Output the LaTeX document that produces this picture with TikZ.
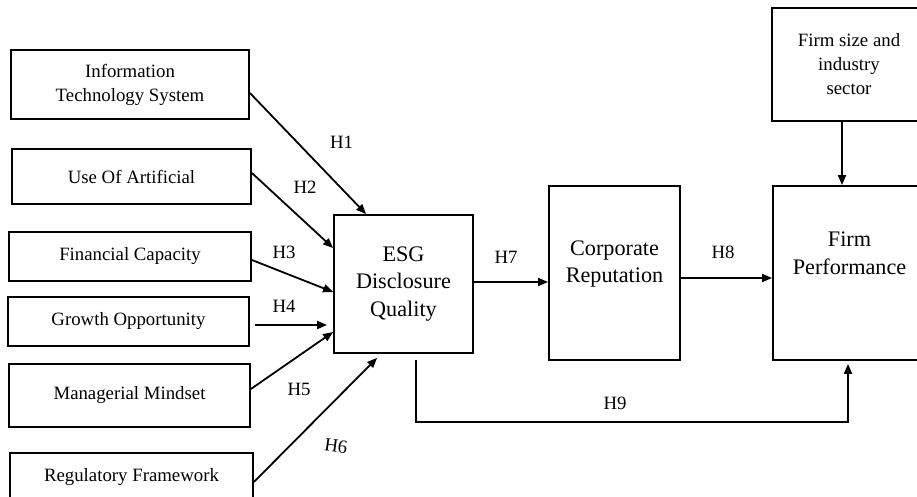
\documentclass[tikz,border=0pt]{standalone}
\usepackage{fontspec}
\setmainfont{Liberation Serif}
\usetikzlibrary{arrows.meta}

\begin{document}
\begin{tikzpicture}[
   x=1pt, y=-1pt,
   box/.style={draw, line width=1.8pt, align=center, inner sep=0pt,
               font=\fontsize{18.8}{24}\selectfont},
   bigtxt/.style={align=center, font=\fontsize{22.2}{27.5}\selectfont},
   hyp/.style={font=\fontsize{18.8}{24}\selectfont},
   >={Triangle[length=10pt, width=8pt]},
   arr/.style={->, line width=1.8pt}]
  \clip (0,0) rectangle (917,497);
  % antecedents
  \node[box, minimum width=238pt, minimum height=69pt] (it) at (130,84.5) {Information\\Technology System};
  \node[box, minimum width=239pt, minimum height=55pt] (ai) at (131.5,176.5) {Use Of Artificial};
  \node[box, minimum width=242pt, minimum height=49pt] (fin) at (130,256.5) {Financial Capacity};
  \node[box, minimum width=241pt, minimum height=49pt] (grow) at (128.5,321.5) {Growth Opportunity};
  \node[box, minimum width=241pt, minimum height=63pt] (mind) at (129.5,395.5) {Managerial Mindset};
  \node[box, minimum width=243pt, minimum height=48pt] (reg) at (131.5,477) {Regulatory Framework};
  % mediator and outcome
  \node[box, bigtxt, minimum width=139pt, minimum height=138pt] (esg) at (403.5,284) {ESG\\Disclosure\\Quality};
  \node[box, minimum width=131pt, minimum height=174pt] (corp) at (614.5,273) {};
  \node[bigtxt] (corptxt) at (614.5,264) {Corporate\\Reputation};
  \node[box, minimum width=153pt, minimum height=174pt] (perf) at (849.5,273) {};
  \node[bigtxt] (perftxt) at (849.5,253.5) {Firm\\Performance};
  \node[box, minimum width=154pt, minimum height=113pt] (size) at (849,64.5) {Firm size and\\industry\\sector};
  % hypotheses
  \draw[arr] ([yshift=-8.5pt]it.east) -- ([xshift=33pt]esg.north west);
  \draw[arr] ([yshift=3.5pt]ai.east) -- ([yshift=36pt]esg.west);
  \draw[arr] ([yshift=-3.5pt]fin.east) -- ([yshift=-8pt]esg.west);
  \draw[arr] ([xshift=5pt,yshift=-3.5pt]grow.east) -- ([xshift=-6pt,yshift=-41pt]esg.west);
  \draw[arr] ([yshift=6.5pt]mind.east) -- ([yshift=-48pt]esg.west);
  \draw[arr] ([yshift=-5pt]reg.east) -- ([xshift=44pt,yshift=-4pt]esg.south west);
  \draw[arr] ([yshift=2pt]esg.east) -- ([yshift=-9pt]corp.west);
  \draw[arr] ([yshift=-5pt]corp.east) -- ([yshift=-5pt]perf.west);
  \draw[arr] ([xshift=83pt,yshift=-6pt]esg.south west) -- ++(0,62)
     -| ([xshift=-1.5pt,yshift=-3pt]perf.south);
  \draw[arr] ([xshift=-7pt]size.south) -- ([xshift=-7.5pt]perf.north);
  \node[hyp] (h1) at (341.5,142) {H1};
  \node[hyp] (h2) at (305,187) {H2};
  \node[hyp] (h3) at (284,252) {H3};
  \node[hyp] (h4) at (284,306) {H4};
  \node[hyp] (h5) at (299,389) {H5};
  \node[hyp, rotate=-8] (h6) at (336,446) {H6};
  \node[hyp] (h7) at (506,257) {H7};
  \node[hyp] (h8) at (723,252) {H8};
  \node[hyp] (h9) at (615,403) {H9};
\end{tikzpicture}
\end{document}
